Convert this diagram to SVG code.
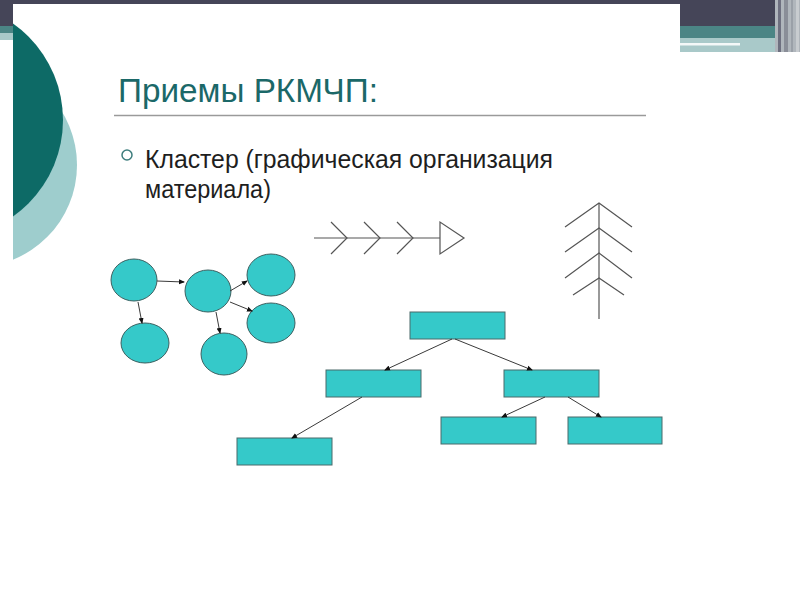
<svg xmlns="http://www.w3.org/2000/svg" width="800" height="600" viewBox="0 0 800 600">
<defs>
<style>
.circ{fill:#35c9c9;stroke:#3d6060;stroke-width:1}
.box{fill:#35c9c9;stroke:#4a6a6a;stroke-width:1}
.con{stroke:#3a3a3a;stroke-width:1;fill:none}
.con2{stroke:#555;stroke-width:1.2;fill:none}
.t{font-family:"Liberation Sans",Arial,sans-serif}
</style>
<marker id="ah" markerWidth="6" markerHeight="6" refX="5" refY="3" orient="auto" markerUnits="userSpaceOnUse"><path d="M0,0.5 L6,3 L0,5.5 Z" fill="#111"/></marker>
<clipPath id="lc"><rect x="13" y="0" width="200" height="600"/></clipPath>
</defs>
<rect x="0" y="0" width="800" height="600" fill="#fff"/>
<g id="topbar">
<rect x="0" y="0" width="800" height="26" fill="#454558"/>
<rect x="0" y="26" width="800" height="12" fill="#4b8585"/>
<rect x="0" y="38" width="800" height="14" fill="#a9c9c9"/>
<rect x="0" y="33" width="13" height="7" fill="#a9c9c9"/>
<rect x="0" y="40" width="13" height="12" fill="#fff"/>
<rect x="775" y="0" width="25" height="52" fill="#b0b6bc"/>
<rect x="778" y="0" width="3" height="52" fill="#6e7080"/>
<rect x="784" y="0" width="4" height="52" fill="#8a8e98"/>
<rect x="791" y="0" width="2" height="52" fill="#9aa0a8"/>
<rect x="796" y="0" width="3" height="52" fill="#c8ccd0"/>
<rect x="13" y="4" width="667" height="596" fill="#fff"/>
<rect x="680" y="43" width="60" height="2.5" fill="#f4f8f8"/>
</g>
<g id="leftdeco" clip-path="url(#lc)">
<circle cx="-25" cy="165" r="102" fill="#9ecdcd"/>
<circle cx="-55" cy="120" r="118" fill="#0d6a66"/>
</g>
<g id="title">
<text class="t" x="118" y="102" font-size="33" fill="#1b6868" textLength="260" lengthAdjust="spacingAndGlyphs">Приемы РКМЧП:</text>
<line x1="114" y1="115.5" x2="646" y2="115.5" stroke="#9a9a9a" stroke-width="1.5"/>
</g>
<g id="bullet">
<circle cx="127" cy="155" r="5" fill="none" stroke="#3d7d7d" stroke-width="1.5"/>
<text class="t" x="145" y="168" font-size="25" fill="#1e1e1e" textLength="408" lengthAdjust="spacingAndGlyphs">Кластер (графическая организация</text>
<text class="t" x="145" y="198" font-size="25" fill="#1e1e1e" textLength="126" lengthAdjust="spacingAndGlyphs">материала)</text>
</g>
<g id="fishbone" class="con2">
<line x1="314" y1="238" x2="440" y2="238"/>
<polygon points="440,222 440,254 464,238"/>
<polyline points="331,222 347,238 331,254"/>
<polyline points="364,222 380,238 364,254"/>
<polyline points="397,222 413,238 397,254"/>
</g>
<g id="tree" class="con2">
<line x1="599" y1="203" x2="599" y2="319"/>
<polyline points="565,227 599,203 632,227"/>
<polyline points="565,252 599,228 632,252"/>
<polyline points="565,278 599,253 632,278"/>
<polyline points="573,295 599,278 624,295"/>
</g>
<g id="c1"><ellipse class="circ" cx="134" cy="280" rx="23" ry="21"/></g>
<g id="c2"><ellipse class="circ" cx="145" cy="343" rx="24" ry="20"/></g>
<g id="c3"><ellipse class="circ" cx="208" cy="291" rx="23" ry="21"/></g>
<g id="c4"><ellipse class="circ" cx="271" cy="275" rx="24" ry="21"/></g>
<g id="c5"><ellipse class="circ" cx="271" cy="323" rx="24" ry="20"/></g>
<g id="c6"><ellipse class="circ" cx="224" cy="354" rx="23" ry="21"/></g>
<g id="r1"><rect class="box" x="410" y="312" width="95" height="27"/></g>
<g id="r2"><rect class="box" x="326" y="370" width="95" height="27"/></g>
<g id="r3"><rect class="box" x="504" y="370" width="95" height="27"/></g>
<g id="r4"><rect class="box" x="441" y="417" width="95" height="27"/></g>
<g id="r5"><rect class="box" x="568" y="417" width="94" height="27"/></g>
<g id="r6"><rect class="box" x="237" y="438" width="95" height="27"/></g>
<g id="connectors" class="con">
<line x1="157" y1="281" x2="184" y2="282" marker-end="url(#ah)"/>
<line x1="138" y1="302" x2="142" y2="323" marker-end="url(#ah)"/>
<line x1="216" y1="312" x2="220" y2="333" marker-end="url(#ah)"/>
<line x1="230" y1="291" x2="247" y2="281" marker-end="url(#ah)"/>
<line x1="230" y1="302" x2="252" y2="311" marker-end="url(#ah)"/>
<line x1="452" y1="339" x2="385" y2="370" marker-end="url(#ah)"/>
<line x1="455" y1="339" x2="532" y2="370" marker-end="url(#ah)"/>
<line x1="362" y1="397" x2="292" y2="438" marker-end="url(#ah)"/>
<line x1="545" y1="397" x2="502" y2="417" marker-end="url(#ah)"/>
<line x1="568" y1="397" x2="601" y2="417" marker-end="url(#ah)"/>
</g>
</svg>
